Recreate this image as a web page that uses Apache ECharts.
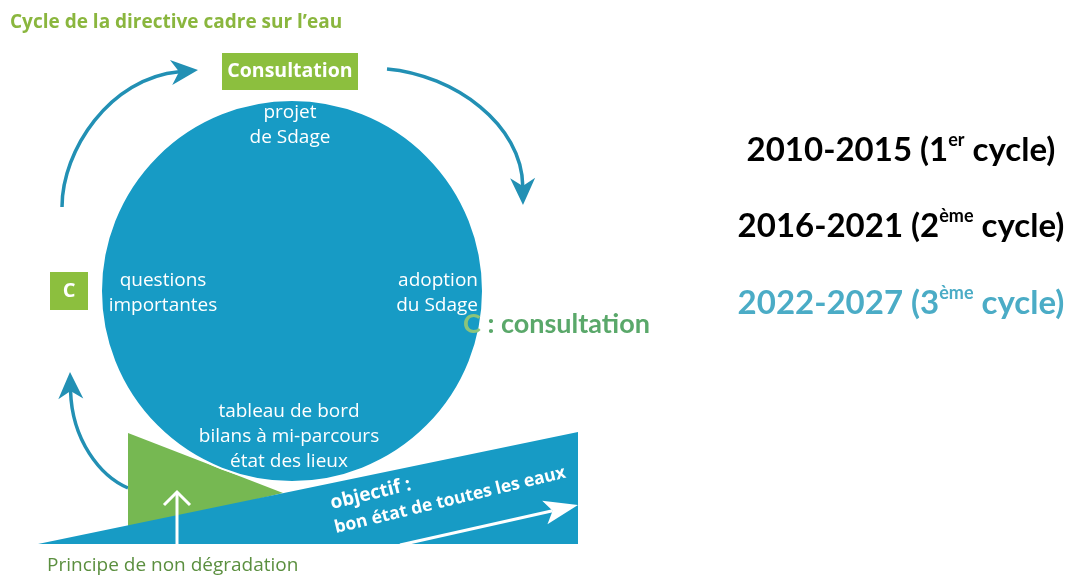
<!DOCTYPE html>
<html>
<head>
<meta charset="utf-8">
<title>Cycle de la directive cadre sur l'eau</title>
<script src="https://cdn.jsdelivr.net/npm/echarts@6.0.0/dist/echarts.min.js"></script>
<style>
  html, body { margin: 0; padding: 0; background: #fff; }
  #main { width: 1071px; height: 577px; }
</style>
</head>
<body>
<div id="main"></div>
<script>
// textes du schéma
var titleText = 'Cycle de la directive cadre sur l\u2019eau';
var stageLabels = [
  ['projet', 'de Sdage'],
  ['questions', 'importantes'],
  ['adoption', 'du Sdage'],
  ['tableau de bord', 'bilans à mi-parcours', 'état des lieux']
];
var consultLabels = ['Consultation', 'C'];
var objectiveLines = ['objectif :', 'bon état de toutes les eaux'];
var footerText = 'Principe de non dégradation';
var legendKey = ['C', ' : consultation'];
var cyclePeriods = ['2010-2015', '2016-2021', '2022-2027'];
var cycleOrdinals = ['1', '2', '3'];
var cycleSuffixes = ['er', 'ème', 'ème'];

var BLUE = '#179bc5';
var ARROW = '#2290b4';
var GREEN_BOX = '#8cbf3e';
var GREEN_TRI = '#76b852';
var SANS = '"Open Sans", "Noto Sans", sans-serif';

var chart = echarts.init(document.getElementById('main'));

// pointe de flèche à encoche, retourne aussi le point où la courbe s'arrête
function arrowHead(tip, from, len, half, notch, color) {
  var dx = tip[0] - from[0], dy = tip[1] - from[1];
  var d = Math.sqrt(dx * dx + dy * dy);
  dx /= d; dy /= d;
  var px = -dy, py = dx;
  var bx = tip[0] - dx * len, by = tip[1] - dy * len;
  var base = [tip[0] - dx * (len - notch), tip[1] - dy * (len - notch)];
  return {
    base: base,
    el: {
      type: 'polygon',
      shape: { points: [tip, [bx + px * half, by + py * half], base, [bx - px * half, by - py * half]] },
      style: { fill: color }
    }
  };
}

function curvedArrow(p0, c1, c2, tip) {
  var h = arrowHead(tip, c2, 27, 12.5, 8, ARROW);
  return [{
    type: 'bezierCurve',
    shape: { x1: p0[0], y1: p0[1], cpx1: c1[0], cpy1: c1[1], cpx2: c2[0], cpy2: c2[1], x2: h.base[0], y2: h.base[1] },
    style: { stroke: ARROW, lineWidth: 3.5, fill: null }
  }, h.el];
}

var g = [];

// titre
g.push({ type: 'text', style: { text: titleText, x: 10, y: 23, fill: '#8ab63e', font: 'bold 19px ' + SANS, textVerticalAlign: 'middle' } });

// flèches du cycle
g = g.concat(curvedArrow([62, 207], [62, 150], [110, 78], [198, 70]));
g = g.concat(curvedArrow([387, 69], [455, 75], [522, 125], [523, 205]));
g = g.concat(curvedArrow([128, 488], [100, 476], [72, 440], [70, 372]));

// triangle vert (non dégradation) et bande bleue (objectif)
g.push({ type: 'polygon', shape: { points: [[128, 433], [128, 530], [283, 493]] }, style: { fill: GREEN_TRI } });
g.push({ type: 'polygon', shape: { points: [[38, 544], [578, 432], [578, 544]] }, style: { fill: BLUE } });

// grand cercle
g.push({ type: 'circle', shape: { cx: 292, cy: 291, r: 191 }, style: { fill: BLUE, stroke: '#fff', lineWidth: 2 } });

// étiquettes dans le cercle
var stagePos = [
  { x: 290, y: 113, align: 'center' },
  { x: 163, y: 281, align: 'center' },
  { x: 478, y: 281, align: 'right' },
  { x: 289, y: 412, align: 'center' }
];
stageLabels.forEach(function (lines, i) {
  var p = stagePos[i];
  lines.forEach(function (t, j) {
    g.push({ type: 'text', style: { text: t, x: p.x, y: p.y + j * 25, fill: '#fff', font: '19px ' + SANS, textAlign: p.align, textVerticalAlign: 'middle' } });
  });
});

// encadrés consultation
g.push({ type: 'rect', shape: { x: 222, y: 53, width: 136, height: 37 }, style: { fill: GREEN_BOX } });
g.push({ type: 'text', style: { text: consultLabels[0], x: 290, y: 71, fill: '#fff', font: 'bold 19.5px ' + SANS, textAlign: 'center', textVerticalAlign: 'middle' } });
g.push({ type: 'rect', shape: { x: 50, y: 272, width: 38, height: 38 }, style: { fill: GREEN_BOX } });
g.push({ type: 'text', style: { text: consultLabels[1], x: 69, y: 291, fill: '#fff', font: 'bold 20px ' + SANS, textAlign: 'center', textVerticalAlign: 'middle' } });

// flèche blanche verticale
g.push({ type: 'line', shape: { x1: 177, y1: 544, x2: 177, y2: 492 }, style: { stroke: '#fff', lineWidth: 3 } });
g.push({ type: 'polyline', shape: { points: [[164, 505], [177, 492], [190, 505]] }, style: { stroke: '#fff', lineWidth: 3, fill: null } });

// flèche blanche dans la bande
var wh = arrowHead([578, 505], [400, 545], 34, 12, 8, '#fff');
g.push({ type: 'line', shape: { x1: 400, y1: 545, x2: wh.base[0], y2: wh.base[1] }, style: { stroke: '#fff', lineWidth: 3 } });
g.push(wh.el);

// texte objectif incliné
var rot = 13.6 * Math.PI / 180;
g.push({ type: 'text', x: 333, y: 513, rotation: rot, style: { text: objectiveLines[0], x: 0, y: 0, fill: '#fff', font: 'bold 19px ' + SANS, textVerticalAlign: 'bottom' } });
g.push({ type: 'text', x: 337, y: 537, rotation: rot, style: { text: objectiveLines[1], x: 0, y: 0, fill: '#fff', font: 'bold 17.5px ' + SANS, textVerticalAlign: 'bottom' } });

// légende du bas
g.push({ type: 'text', style: { text: footerText, x: 47, y: 566, fill: '#5b8f3f', font: '19px ' + SANS, textVerticalAlign: 'middle' } });

// clé C : consultation
g.push({ type: 'text', style: { text: '{c|' + legendKey[0] + '}{r|' + legendKey[1] + '}', x: 463, y: 324, textVerticalAlign: 'middle',
  rich: { c: { fill: '#8cc47a', font: 'bold 27px Lato, sans-serif' }, r: { fill: '#5aa86a', font: 'bold 27px Lato, sans-serif' } } } });

// périodes des cycles
var cycleColors = ['#000', '#000', '#4bacc6'];
var cycleY = [150, 226, 303];
cyclePeriods.forEach(function (p, i) {
  g.push({ type: 'text', style: {
    text: '{m|' + p + ' (' + cycleOrdinals[i] + '}{s|' + cycleSuffixes[i] + '}{m| cycle)}',
    x: 901, y: cycleY[i], textAlign: 'center', textVerticalAlign: 'middle',
    rich: {
      m: { fill: cycleColors[i], font: 'bold 33px Lato, sans-serif', lineHeight: 38 },
      s: { fill: cycleColors[i], font: 'bold 18px Lato, sans-serif', verticalAlign: 'top', lineHeight: 38 }
    }
  } });
});

chart.setOption({ graphic: { elements: g } });
</script>
</body>
</html>
